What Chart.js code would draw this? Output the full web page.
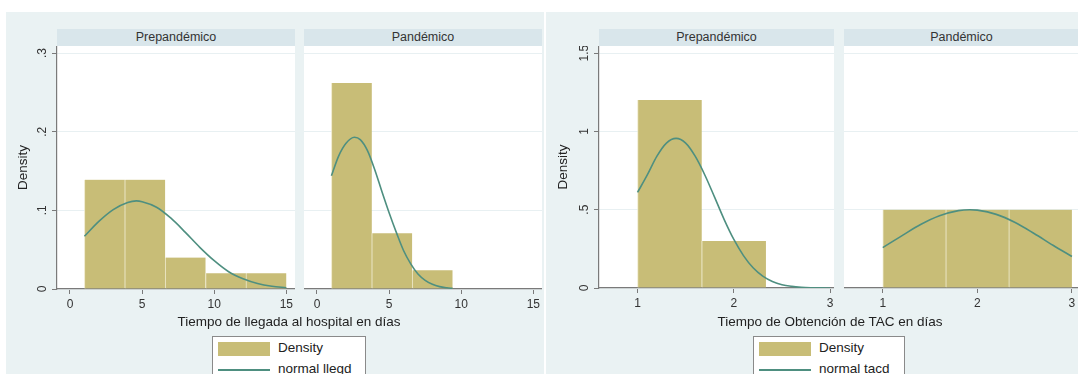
<!DOCTYPE html>
<html>
<head>
<meta charset="utf-8">
<script src="https://cdn.jsdelivr.net/npm/chart.js@4.4.1/dist/chart.umd.min.js"></script>
<style>
  body { margin: 0; background: #fff; font-family: "Liberation Sans", Arial, sans-serif; }
  #page { position: relative; width: 1078px; height: 374px; overflow: hidden; background: #fff; }
  .bg { position: absolute; background: #eaf2f3; }
  .strip { position: absolute; top: 29px; height: 17px; background: #d9e6eb; color: #333;
           font-size: 12.5px; line-height: 17px; text-align: center; }
  .cv { position: absolute; top: 46px; }
  .xtitle { position: absolute; top: 314px; font-size: 13.5px; color: #222; white-space: nowrap;
            transform: translateX(-50%); }
  .legend { position: absolute; top: 336px; height: 50px; background: #fff; border: 1px solid #8a8a8a; }
  .legend .sw { position: absolute; left: 5px; top: 5px; width: 52px; height: 14px; background: #c8bd77; }
  .legend .ln { position: absolute; left: 5px; top: 32px; width: 52px; height: 2px; background: #4e8f80; }
  .legend .t1, .legend .t2 { position: absolute; left: 65px; font-size: 13.5px; color: #222; }
  .legend .t1 { top: 3px; }
  .legend .t2 { top: 24px; }
</style>
</head>
<body>
<div id="page">
  <div class="bg" style="left:6px; top:12px; width:538px; height:362px;"></div>
  <div class="bg" style="left:546px; top:12px; width:532px; height:362px;"></div>

  <div class="strip" style="left:57px; width:238px;">Prepandémico</div>
  <div class="strip" style="left:304px; width:238px;">Pandémico</div>
  <div class="strip" style="left:599px; width:235px;">Prepandémico</div>
  <div class="strip" style="left:844px; width:235px;">Pandémico</div>

  <canvas id="llegPre" class="cv" width="289" height="270" style="left:6px;"></canvas>
  <canvas id="llegPan" class="cv" width="238" height="270" style="left:304px;"></canvas>
  <canvas id="tacPre" class="cv" width="288" height="270" style="left:546px;"></canvas>
  <canvas id="tacPan" class="cv" width="235" height="270" style="left:844px;"></canvas>

  <div class="xtitle" style="left:289px;">Tiempo de llegada al hospital en días</div>
  <div class="xtitle" style="left:830px;">Tiempo de Obtención de TAC en días</div>

  <div class="legend" style="left:212px; width:152px;">
    <div class="sw"></div><div class="t1">Density</div>
    <div class="ln"></div><div class="t2">normal llegd</div>
  </div>
  <div class="legend" style="left:753px; width:150px;">
    <div class="sw"></div><div class="t1">Density</div>
    <div class="ln"></div><div class="t2">normal tacd</div>
  </div>
</div>

<script>
// histogram bins (left edge) and bin widths
const llegadaBins = [1, 3.8, 6.6, 9.4, 12.2]
const llegadaBinWidth = 2.8
const tacBins = [1, 1.6667, 2.3333]
const tacBinWidth = 0.6667

// density per bin
const llegadaPreDensity = [0.139, 0.139, 0.040, 0.020, 0.020]
const llegadaPanDensity = [0.262, 0.071, 0.024]
const tacPreDensity = [1.2, 0.3, 0]
const tacPanDensity = [0.5, 0.5, 0.5]

// normal overlay
const llegadaPreNormX = [1, 2, 3, 4, 4.6, 5, 6, 7, 8, 9, 10, 11, 12, 13, 14, 15]
const llegadaPreNormY = [0.067, 0.086, 0.101, 0.110, 0.112, 0.111, 0.104, 0.090, 0.072, 0.053, 0.036, 0.022, 0.013, 0.007, 0.0035, 0.0016]
const llegadaPanNormX = [1, 1.5, 2, 2.6, 3, 3.5, 4, 4.5, 5, 5.5, 6, 6.5, 7, 7.5, 8, 8.5, 9, 9.4]
const llegadaPanNormY = [0.144, 0.169, 0.185, 0.193, 0.190, 0.176, 0.152, 0.124, 0.097, 0.072, 0.049, 0.032, 0.019, 0.011, 0.006, 0.003, 0.0015, 0.0008]
const tacPreNormX = [1, 1.1, 1.2, 1.3, 1.4, 1.5, 1.6, 1.7, 1.8, 1.9, 2, 2.1, 2.2, 2.3, 2.4, 2.5, 2.6, 2.7, 2.8, 2.9, 3]
const tacPreNormY = [0.61, 0.72, 0.84, 0.925, 0.955, 0.925, 0.84, 0.72, 0.58, 0.437, 0.31, 0.207, 0.129, 0.076, 0.042, 0.021, 0.0105, 0.0048, 0.002, 0.0008, 0.0003]
const tacPanNormX = [1, 1.2, 1.4, 1.6, 1.8, 1.92, 2, 2.2, 2.4, 2.6, 2.8, 3]
const tacPanNormY = [0.258, 0.333, 0.405, 0.461, 0.494, 0.5, 0.497, 0.47, 0.418, 0.348, 0.273, 0.201]

// axis ticks
const llegadaTicks = [0, 5, 10, 15]
const tacTicks = [1, 2, 3]
const llegadaDensityTicks = [0, 0.1, 0.2, 0.3]
const llegadaDensityLabels = ["0", ".1", ".2", ".3"]
const tacDensityTicks = [0, 0.5, 1, 1.5]
const tacDensityLabels = ["0", ".5", "1", "1.5"]

const barColor = "#c8bd77"
const lineColor = "#4e8f80"
const axisColor = "#7a7a7a"
const fontFamily = "'Liberation Sans', Arial, sans-serif"

const plotBg = {
    id: "plotBg",
    beforeDraw(chart) {
        const a = chart.chartArea
        chart.ctx.save()
        chart.ctx.fillStyle = "#fff"
        chart.ctx.fillRect(a.left, a.top, a.right - a.left, a.bottom - a.top)
        chart.ctx.restore()
    }
}

// stata style y labels, turned on their side
const sideLabels = {
    id: "sideLabels",
    afterDraw(chart, args, opts) {
        if (!opts.labels) return
        const y = chart.scales.y
        const ctx = chart.ctx
        ctx.save()
        ctx.fillStyle = "#333"
        ctx.font = "12px " + fontFamily
        ctx.textAlign = "center"
        ctx.textBaseline = "middle"
        opts.values.forEach((v, i) => {
            ctx.save()
            ctx.translate(y.right - 14.5, y.getPixelForValue(v))
            ctx.rotate(-Math.PI / 2)
            ctx.fillText(opts.labels[i], 0, 0)
            ctx.restore()
        })
        ctx.restore()
    }
}

function facet(id, cfg) {
    const bars = cfg.bins.map((b, i) => ({ x: b + cfg.binWidth / 2, y: cfg.density[i] }))
    const curve = cfg.normX.map((x, i) => ({ x: x, y: cfg.normY[i] }))
    new Chart(document.getElementById(id), {
        type: "bar",
        data: {
            datasets: [
                {
                    type: "line",
                    data: curve,
                    borderColor: lineColor,
                    borderWidth: 1.6,
                    pointRadius: 0,
                    cubicInterpolationMode: "monotone",
                    fill: false,
                    order: 0
                },
                {
                    data: bars,
                    backgroundColor: barColor,
                    borderColor: "rgba(236,231,196,0.9)",
                    borderWidth: { left: 1, right: 0, top: 0, bottom: 0 },
                    borderSkipped: false,
                    barPercentage: 1,
                    categoryPercentage: 1,
                    order: 1
                }
            ]
        },
        options: {
            responsive: false,
            animation: false,
            layout: { padding: 0 },
            plugins: {
                legend: { display: false },
                tooltip: { enabled: false },
                sideLabels: { labels: cfg.yLabels, values: cfg.yTicks }
            },
            scales: {
                x: {
                    type: "linear",
                    min: cfg.xMin,
                    max: cfg.xMax,
                    offset: false,
                    afterBuildTicks: s => { s.ticks = cfg.xTicks.map(v => ({ value: v })) },
                    afterFit: s => { s.height = cfg.xHeight; s.paddingLeft = 0; s.paddingRight = 0 },
                    grid: { offset: false, drawOnChartArea: false, color: "transparent", tickColor: axisColor, tickLength: 5 },
                    border: { color: axisColor, width: 1.2 },
                    ticks: { color: "#333", padding: 3, font: { size: 12, family: fontFamily } }
                },
                y: {
                    min: 0,
                    max: cfg.yMax,
                    afterBuildTicks: s => { s.ticks = cfg.yTicks.map(v => ({ value: v })) },
                    afterFit: s => { s.width = cfg.yWidth; s.paddingTop = 0; s.paddingBottom = 0 },
                    grid: { color: "#e8f0f2", tickColor: axisColor, tickLength: 5, drawTicks: cfg.yWidth > 0 },
                    border: { display: cfg.yWidth > 0, color: axisColor, width: 1.2 },
                    ticks: { display: false },
                    title: {
                        display: cfg.yWidth > 0,
                        text: "Density",
                        color: "#222",
                        padding: { top: 9, bottom: 0 },
                        font: { size: 13.5, family: fontFamily }
                    }
                }
            }
        },
        plugins: [plotBg, sideLabels]
    })
}

facet("llegPre", {
    bins: llegadaBins, binWidth: llegadaBinWidth, density: llegadaPreDensity,
    normX: llegadaPreNormX, normY: llegadaPreNormY,
    xMin: -0.9, xMax: 15.6, xTicks: llegadaTicks, xHeight: 27,
    yMax: 0.309, yTicks: llegadaDensityTicks, yLabels: llegadaDensityLabels, yWidth: 51
})
facet("llegPan", {
    bins: llegadaBins.slice(0, 3), binWidth: llegadaBinWidth, density: llegadaPanDensity,
    normX: llegadaPanNormX, normY: llegadaPanNormY,
    xMin: -0.9, xMax: 15.6, xTicks: llegadaTicks, xHeight: 27,
    yMax: 0.309, yTicks: llegadaDensityTicks, yLabels: null, yWidth: 0
})
facet("tacPre", {
    bins: tacBins, binWidth: tacBinWidth, density: tacPreDensity,
    normX: tacPreNormX, normY: tacPreNormY,
    xMin: 0.6, xMax: 3.04, xTicks: tacTicks, xHeight: 28,
    yMax: 1.545, yTicks: tacDensityTicks, yLabels: tacDensityLabels, yWidth: 53
})
facet("tacPan", {
    bins: tacBins, binWidth: tacBinWidth, density: tacPanDensity,
    normX: tacPanNormX, normY: tacPanNormY,
    xMin: 0.59, xMax: 3.075, xTicks: tacTicks, xHeight: 28,
    yMax: 1.545, yTicks: tacDensityTicks, yLabels: null, yWidth: 0
})
</script>
</body>
</html>
